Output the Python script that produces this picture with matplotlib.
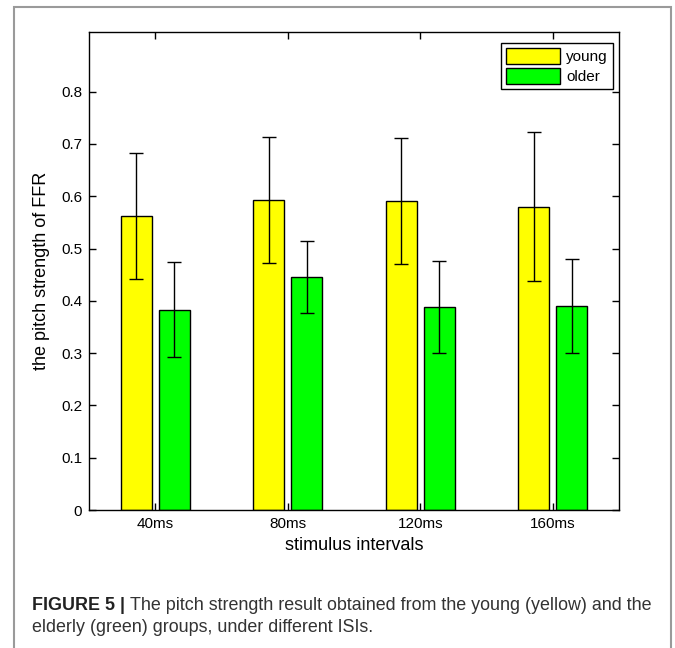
import numpy as np
import matplotlib
matplotlib.use("Agg")
import matplotlib.pyplot as plt
from matplotlib.patches import Rectangle

# data
intervals = ['40ms', '80ms', '120ms', '160ms']
young = [0.562, 0.593, 0.591, 0.580]
young_err = [0.121, 0.121, 0.121, 0.143]
older = [0.383, 0.446, 0.388, 0.390]
older_err = [0.091, 0.069, 0.088, 0.089]

plt.rcParams['font.family'] = ['Liberation Sans Narrow', 'Liberation Sans', 'DejaVu Sans']

W, H = 675, 648
fig = plt.figure(figsize=(W / 100, H / 100), dpi=100)

# grey frame around the whole figure (open at the bottom)
fig.add_artist(Rectangle((13.5 / W, -0.05), (671 - 13.5) / W, 1.05 - 7 / H,
                         transform=fig.transFigure, fill=False,
                         edgecolor='#9a9a9a', lw=1.5))

ax = fig.add_axes([89 / W, (H - 510) / H, 530 / W, 478 / H])

x = np.arange(1, len(intervals) + 1)
off = 0.143
width = 0.234
ax.bar(x - off, young, width, color='#ffff00', edgecolor='black', lw=1.0, label='young')
ax.bar(x + off, older, width, color='#00ff00', edgecolor='black', lw=1.0, label='older')
ax.errorbar(x - off, young, yerr=young_err, fmt='none', ecolor='black', elinewidth=1.0,
            capsize=5, capthick=1.0)
ax.errorbar(x + off, older, yerr=older_err, fmt='none', ecolor='black', elinewidth=1.0,
            capsize=5, capthick=1.0)

ax.set_xlim(0.5, 4.5)
ax.set_ylim(0, 0.914)
ax.set_xticks(x)
ax.set_xticklabels(intervals)
ax.set_yticks(np.arange(0, 0.81, 0.1))
ax.set_yticklabels(['0', '0.1', '0.2', '0.3', '0.4', '0.5', '0.6', '0.7', '0.8'])
ax.tick_params(direction='in', top=True, right=True, length=5, width=1.0,
               labelsize=11, colors='black', pad=5)
for s in ax.spines.values():
    s.set_linewidth(1.0)

ax.set_xlabel('stimulus intervals', fontsize=13, labelpad=4)
ax.set_ylabel('the pitch strength of FFR', fontsize=13, labelpad=8)

leg = ax.legend(loc='upper right', bbox_to_anchor=(0.9887, 0.977), fontsize=11,
                handlelength=3.5, handleheight=1.2, handletextpad=0.4,
                borderpad=0.35, labelspacing=0.25, borderaxespad=0,
                fancybox=False, framealpha=1)
leg.get_frame().set_edgecolor('black')
leg.get_frame().set_linewidth(1.0)

# caption
cap_font = ['Liberation Sans', 'DejaVu Sans']
cap_size = 12.9
t1 = fig.text(32 / W, 1 - 605 / H, 'FIGURE 5 | ', fontsize=cap_size, fontweight='bold',
              family=cap_font, va='center', color='#222222')
fig.canvas.draw()
bb = t1.get_window_extent(fig.canvas.get_renderer())
fig.text(bb.x1 / W, 1 - 605 / H,
         'The pitch strength result obtained from the young (yellow) and the',
         fontsize=cap_size, family=cap_font, va='center', color='#333333')
fig.text(32 / W, 1 - 627 / H, 'elderly (green) groups, under different ISIs.',
         fontsize=cap_size, family=cap_font, va='center', color='#333333')

fig.savefig('out.png', dpi=100)
